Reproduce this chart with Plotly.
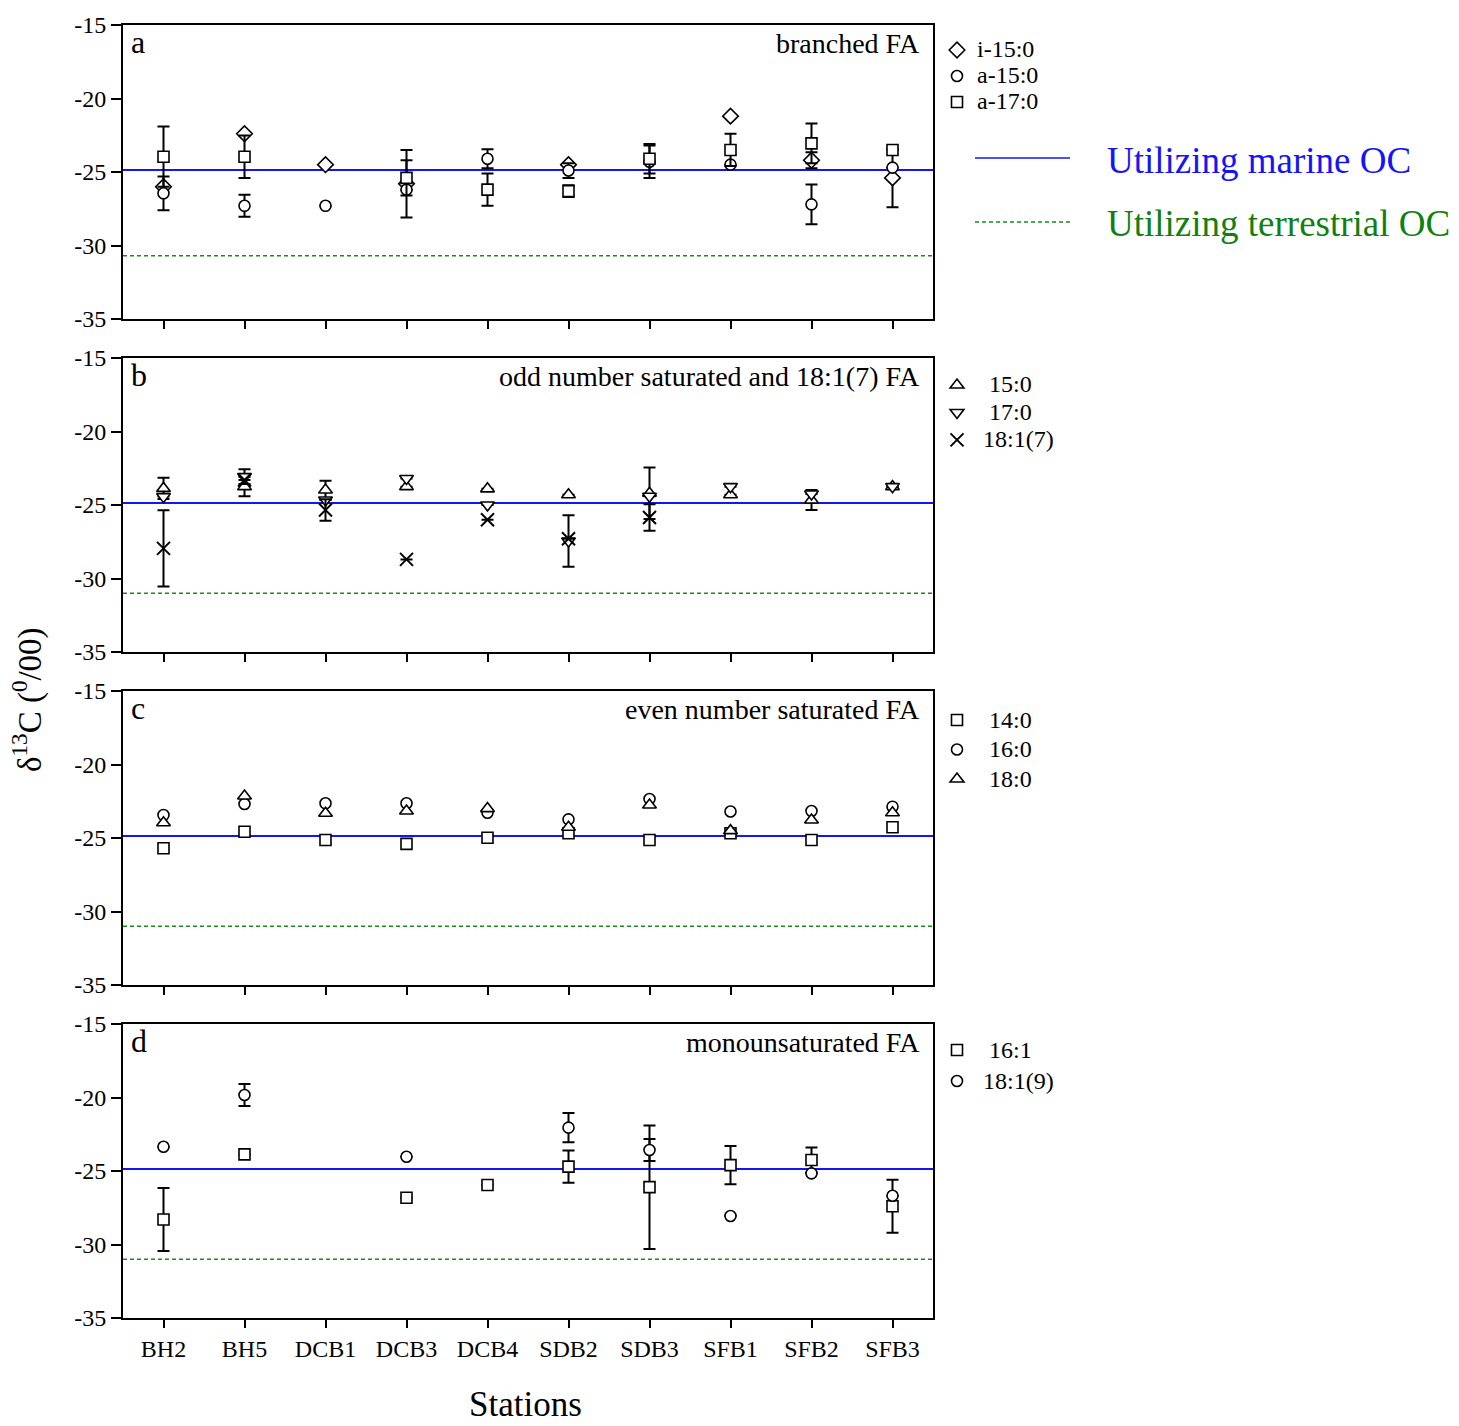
import plotly.graph_objects as go

stations = ["BH2", "BH5", "DCB1", "DCB3", "DCB4", "SDB2", "SDB3", "SFB1", "SFB2", "SFB3"]
xpos = list(range(len(stations)))

# Reference lines (per panel)
marine_oc = [-24.87, -24.87, -24.87, -24.87]
terrestrial_oc = [-30.7, -31.0, -31.0, -31.0]

# Panel a: branched FA
i15_0 = [-26.0, -22.4, -24.5, -25.8, None, -24.5, None, -21.2, -24.2, -25.4]
i15_0_err = [None, None, None, 2.3, None, None, None, None, 0.55, 2.0]
a15_0 = [-26.45, -27.3, -27.3, -26.2, -24.1, -24.9, -24.3, -24.5, -27.2, -24.7]
a15_0_err = [1.15, 0.75, None, None, 0.65, 0.5, 1.1, None, 1.35, None]
a17_0 = [-23.96, -23.96, None, -25.4, -26.2, -26.3, -24.1, -23.5, -23.05, -23.5]
a17_0_err = [2.05, 1.45, None, 1.2, 1.1, 0.4, 1.0, 1.1, 1.35, None]

# Panel b: odd number saturated and 18:1(7) FA
c15_0 = [-23.87, -23.75, -23.98, -23.75, -23.9, -24.3, -24.2, -24.3, -24.66, -23.75]
c15_0_err = [0.73, 0.65, 0.63, None, None, None, 1.75, None, 0.68, None]
c17_0 = [-24.43, -23.07, -24.66, -23.2, -25.0, -27.45, -24.4, -23.75, -24.25, -23.75]
c17_0_err = [None, 0.5, None, None, None, 1.75, None, None, None, None]
c18_1_7 = [-27.95, -23.3, -25.34, -28.7, -26.0, -27.3, -25.85, None, None, None]
c18_1_7_err = [2.6, None, 0.73, None, None, None, 0.9, None, None, None]

# Panel c: even number saturated FA
c14_0 = [-25.7, -24.57, -25.14, -25.4, -24.98, -24.68, -25.14, -24.68, -25.14, -24.27]
c16_0 = [-23.44, -22.69, -22.64, -22.64, -23.28, -23.73, -22.35, -23.2, -23.16, -22.87]
c18_0 = [-23.96, -22.14, -23.32, -23.16, -23.0, -24.27, -22.76, -24.5, -23.78, -23.28]

# Panel d: monounsaturated FA
c16_1 = [-28.3, -23.87, None, -26.82, -25.95, -24.7, -26.1, -24.6, -24.25, -27.4]
c16_1_err = [2.15, None, None, None, None, 1.1, 4.2, 1.3, 0.85, 1.8]
c18_1_9 = [-23.35, -19.83, None, -24.03, None, -22.05, -23.57, -28.06, -25.16, -26.68]
c18_1_9_err = [None, 0.75, None, None, None, 1.0, 0.75, None, None, None]

panel_letters = ["a", "b", "c", "d"]
panel_titles = ["branched FA", "odd number saturated and 18:1(7) FA",
                "even number saturated FA", "monounsaturated FA"]

FONT = "Liberation Serif"

fig = go.Figure()

H_PLOT = 1293.0
def py(p):
    return (1318.0 - p) / H_PLOT

panel_px = [(25, 319), (358, 652), (691, 985), (1024, 1318)]

series = [
    (1, "i-15:0", i15_0, i15_0_err, "diamond", 12, 0),
    (1, "a-15:0", a15_0, a15_0_err, "circle", 11, 0),
    (1, "a-17:0", a17_0, a17_0_err, "square", 11, 0),
    (2, "15:0", c15_0, c15_0_err, "triangle-up", 12, 2),
    (2, "17:0", c17_0, c17_0_err, "triangle-down", 12, 2),
    (2, "18:1(7)", c18_1_7, c18_1_7_err, "x-thin-open", 13, 1),
    (3, "14:0", c14_0, None, "square", 11, 2),
    (3, "16:0", c16_0, None, "circle", 11, 2),
    (3, "18:0", c18_0, None, "triangle-up", 12, 2),
    (4, "16:1", c16_1, c16_1_err, "square", 11, 2),
    (4, "18:1(9)", c18_1_9, c18_1_9_err, "circle", 11, 1),
]

for k in range(4):
    ax = "" if k == 0 else str(k + 1)
    fig.add_trace(go.Scatter(
        x=[-0.5, 9.5], y=[marine_oc[k]] * 2, mode="lines",
        line=dict(color="#1414f5", width=2), showlegend=False, hoverinfo="skip",
        xaxis="x" + ax, yaxis="y" + ax))
    fig.add_trace(go.Scatter(
        x=[-0.5, 9.5], y=[terrestrial_oc[k]] * 2, mode="lines",
        line=dict(color="#1a8a1a", width=1.5, dash="4px,3px"), showlegend=False,
        hoverinfo="skip", xaxis="x" + ax, yaxis="y" + ax))

for panel, name, yv, err, sym, size, pad in series:
    ax = "" if panel == 1 else str(panel)
    leg = "legend" if panel == 1 else "legend" + str(panel)
    is_x = sym.startswith("x")
    marker = dict(symbol=sym, size=size,
                  color="black" if is_x else "white",
                  line=dict(color="black", width=2 if is_x else 1.6))
    kw = {}
    if err is not None:
        kw["error_y"] = dict(type="data", array=err, visible=True, color="black",
                             thickness=2, width=6)
    label = '<span style="font-size:24px">' + "\u00a0" * pad + name + "</span>"
    fig.add_trace(go.Scatter(
        x=xpos, y=yv, mode="markers", name=label, marker=marker,
        xaxis="x" + ax, yaxis="y" + ax, legend=leg, **kw))

axis_common = dict(showline=True, linecolor="black", linewidth=2, mirror=True,
                   showgrid=False, zeroline=False, ticks="outside",
                   tickcolor="black", tickwidth=2,
                   tickfont=dict(family=FONT, size=24, color="black"))

layout = dict(
    width=1459, height=1426,
    margin=dict(l=123, r=526, t=25, b=108),
    paper_bgcolor="white", plot_bgcolor="white",
    font=dict(family=FONT, color="black"),
)

annotations = []
for k in range(4):
    ax = "" if k == 0 else str(k + 1)
    top, bot = panel_px[k]
    layout["xaxis" + ax] = dict(
        axis_common, domain=[0, 1], range=[-0.5, 9.5],
        tickvals=xpos, ticktext=stations, showticklabels=(k == 3),
        ticklen=8, anchor="y" + ax)
    layout["yaxis" + ax] = dict(
        axis_common, domain=[py(bot), py(top)], range=[-35, -15],
        tickvals=[-35, -30, -25, -20, -15], ticktext=["-35", "-30", "-25", "-20", "-15"],
        ticklen=10, anchor="x" + ax)
    annotations.append(dict(
        text=panel_letters[k], xref="x" + ax + " domain", yref="y" + ax + " domain",
        x=0.008, y=1.01, xanchor="left", yanchor="top", showarrow=False,
        font=dict(family=FONT, size=32, color="black")))
    annotations.append(dict(
        text=panel_titles[k], xref="x" + ax + " domain", yref="y" + ax + " domain",
        x=0.987, y=0.995, xanchor="right", yanchor="top", showarrow=False,
        font=dict(family=FONT, size=28, color="black")))

legend_centers = [50, 385, 720, 1050]
legend_fs = [17.7, 18.8, 20.4, 21.5]
for k in range(4):
    key = "legend" if k == 0 else "legend" + str(k + 1)
    fs = legend_fs[k]
    top = legend_centers[k] - (5 + (fs * 1.3 + 3) / 2.0)
    layout[key] = dict(
        x=(937 - 123) / 810.0, xanchor="left", y=py(top), yanchor="top",
        bgcolor="rgba(0,0,0,0)", borderwidth=0,
        font=dict(family=FONT, size=fs, color="black"), itemwidth=30)

shapes = [
    dict(type="line", xref="paper", yref="paper",
         x0=(975 - 123) / 810.0, x1=(1070 - 123) / 810.0, y0=py(158), y1=py(158),
         line=dict(color="#1414f5", width=1.5)),
    dict(type="line", xref="paper", yref="paper",
         x0=(975 - 123) / 810.0, x1=(1070 - 123) / 810.0, y0=py(222), y1=py(222),
         line=dict(color="#1a8a1a", width=1.5, dash="4px,3px")),
]
annotations.append(dict(text="Utilizing marine OC", xref="paper", yref="paper",
                        x=(1105 - 123) / 810.0, y=py(160), xanchor="left", yanchor="middle",
                        showarrow=False, font=dict(family=FONT, size=37, color="#1414f5")))
annotations.append(dict(text="Utilizing terrestrial OC", xref="paper", yref="paper",
                        x=(1105 - 123) / 810.0, y=py(224), xanchor="left", yanchor="middle",
                        showarrow=False, font=dict(family=FONT, size=37, color="#108010")))

annotations.append(dict(text="δ<sup>13</sup>C (<sup>0</sup>/00)", xref="paper", yref="paper",
                        x=(28 - 123) / 810.0, y=py(700), xanchor="center", yanchor="middle",
                        textangle=-90, showarrow=False,
                        font=dict(family=FONT, size=33, color="black")))
annotations.append(dict(text="Stations", xref="paper", yref="paper",
                        x=(525 - 123) / 810.0, y=py(1404), xanchor="center", yanchor="middle",
                        showarrow=False, font=dict(family=FONT, size=35, color="black")))

layout["annotations"] = annotations
layout["shapes"] = shapes
fig.update_layout(**layout)

fig.write_html("out.html")
